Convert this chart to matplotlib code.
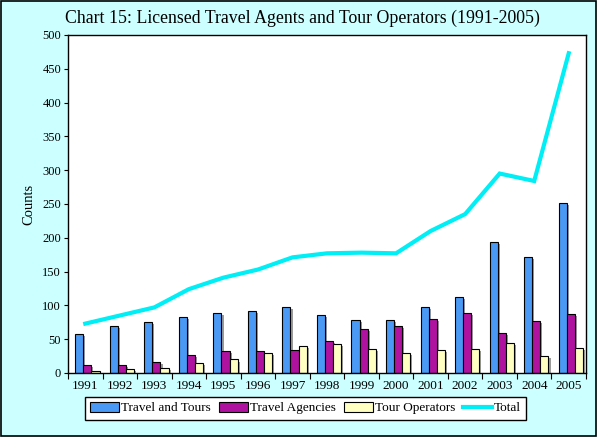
import matplotlib
matplotlib.use("Agg")
import matplotlib.pyplot as plt
import matplotlib.patheffects as pe
import numpy as np
from matplotlib.patches import Patch
from matplotlib.lines import Line2D

years = ["1991", "1992", "1993", "1994", "1995", "1996", "1997", "1998",
         "1999", "2000", "2001", "2002", "2003", "2004", "2005"]
travel_tours = [58, 69, 75, 83, 89, 92, 98, 86, 78, 79, 98, 112, 194, 171, 251]
travel_agencies = [12, 12, 16, 27, 33, 33, 34, 48, 65, 69, 80, 89, 59, 77, 87]
tour_operators = [3, 6, 8, 15, 20, 29, 40, 43, 36, 29, 34, 36, 45, 25, 37]
total = [73, 85, 97, 124, 141, 153, 171, 177, 178, 177, 210, 235, 295, 284, 473]

plt.rcParams['font.family'] = ['Liberation Serif', 'DejaVu Serif']

bg = '#CCFFFF'
fig = plt.figure(figsize=(5.97, 4.37), dpi=100, facecolor=bg)
fig.patches.append(plt.Rectangle((0.002, 0.002), 0.996, 0.996, transform=fig.transFigure,
                                 fill=False, edgecolor='black', linewidth=1.2))
ax = fig.add_axes([0.1139, 0.1465, 0.8677, 0.7735])
ax.set_facecolor('white')

x = np.arange(len(years))
w = 0.235
shadow = [pe.SimplePatchShadow(offset=(1.5, -1.5), shadow_rgbFace='#909090', alpha=0.9), pe.Normal()]
kw = dict(edgecolor='black', linewidth=0.8, path_effects=shadow, zorder=2)
ax.bar(x - w + 0.06, travel_tours, w, color='#4A9AF5', **kw)
ax.bar(x + 0.06, travel_agencies, w, color='#B012A0', **kw)
ax.bar(x + w + 0.06, tour_operators, w, color='#FFFFC2', **kw)
ax.plot(x, total, color='#00EEF5', linewidth=3, zorder=3, solid_joinstyle='miter')

ax.set_xlim(-0.5, len(years) - 0.5)
ax.set_ylim(0, 500)
ax.set_yticks(range(0, 501, 50))
ax.tick_params(axis='y', labelsize=9, length=3, width=0.8, pad=2)
ax.set_xticks(x)
ax.set_xticklabels(years, fontsize=9.5)
ax.tick_params(axis='x', length=0, pad=5)
ax.set_xticks(np.arange(-0.5, len(years), 1), minor=True)
ax.tick_params(axis='x', which='minor', length=4, width=0.8)
for s in ax.spines.values():
    s.set_linewidth(1.0)
ax.set_ylabel('Counts', fontsize=10.5, labelpad=5)

fig.text(0.506, 0.957, 'Chart 15: Licensed Travel Agents and Tour Operators (1991-2005)',
         ha='center', va='center', fontsize=12.8)

handles = [Patch(facecolor='#4A9AF5', edgecolor='black', linewidth=0.8),
           Patch(facecolor='#B012A0', edgecolor='black', linewidth=0.8),
           Patch(facecolor='#FFFFC2', edgecolor='black', linewidth=0.8),
           Line2D([0], [0], color='#00EEF5', linewidth=3)]
leg = fig.legend(handles, ['Travel and Tours', 'Travel Agencies', 'Tour Operators', 'Total'],
                 loc='center', bbox_to_anchor=(0.512, 0.066), ncol=4, fontsize=9.5,
                 frameon=True, fancybox=False, edgecolor='black', framealpha=1,
                 handlelength=2.2, handleheight=0.8, handletextpad=0.15, columnspacing=0.6,
                 borderpad=0.4)
leg.get_frame().set_linewidth(1.0)

fig.savefig('out.png', dpi=100, facecolor=bg)
